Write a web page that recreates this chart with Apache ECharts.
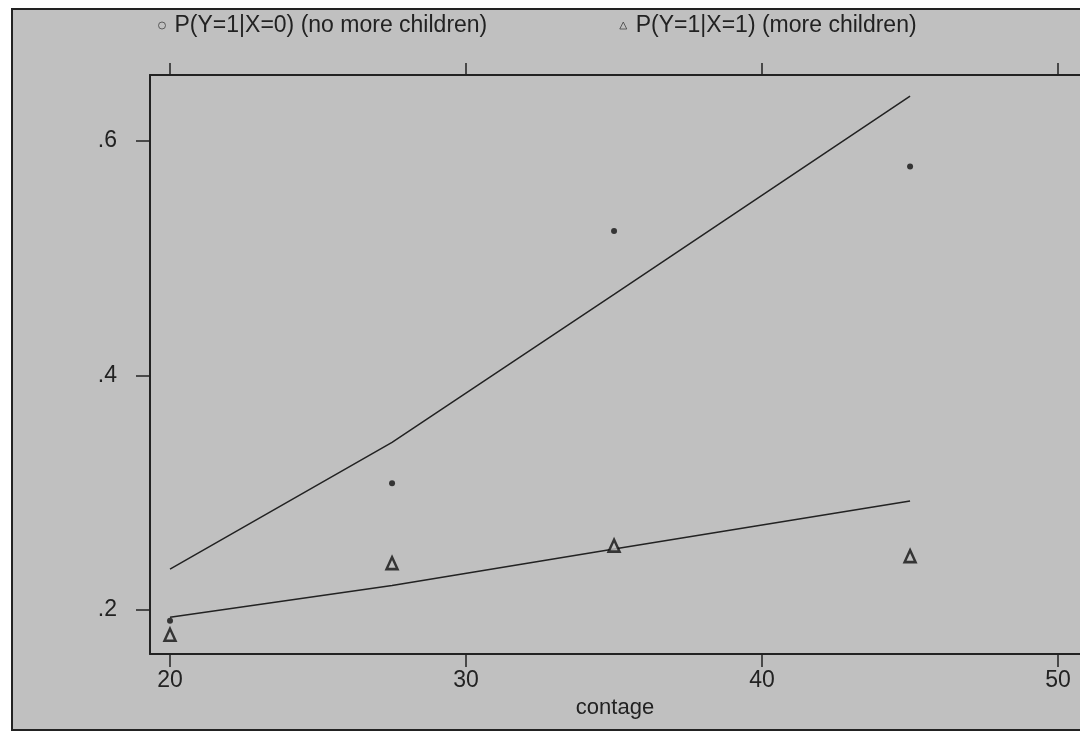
<!DOCTYPE html>
<html>
<head>
<meta charset="utf-8">
<script src="https://cdn.jsdelivr.net/npm/echarts@6/dist/echarts.min.js"></script>
<style>
  html, body { margin: 0; padding: 0; background: #fff; }
  #chart { width: 1080px; height: 732px; }
</style>
</head>
<body>
<div id="chart"></div>
<script>
// values
const ages = [20, 27.5, 35, 45];
const pNoMore = [0.191, 0.308, 0.523, 0.578];   // observed, X=0
const pMore = [0.179, 0.240, 0.255, 0.246];     // observed, X=1
const fitNoMore = [0.235, 0.343, 0.469, 0.638]; // fitted line, X=0
const fitMore = [0.194, 0.221, 0.252, 0.293];   // fitted line, X=1
const xTicks = [20, 30, 40, 50];
const yTicks = [0.2, 0.4, 0.6];
const legendNames = ['P(Y=1|X=0) (no more children)', 'P(Y=1|X=1) (more children)'];

const font = '"Liberation Sans", Arial, sans-serif';
const pairs = (xs, ys) => xs.map((x, i) => [x, ys[i]]);

let myChart = echarts.init(document.getElementById('chart'));

// plot runs off the right edge of the picture, so the axis max is where the window ends
let option = {
    backgroundColor: '#fff',
    animation: false,
    textStyle: { fontFamily: font },
    graphic: [{
        type: 'rect',
        z: -10,
        shape: { x: 12, y: 9, width: 1100, height: 721 },
        style: { fill: '#c0c0c0', stroke: '#222', lineWidth: 2 }
    }],
    legend: {
        left: 153,
        top: 9,
        itemGap: 132,
        itemWidth: 7,
        itemHeight: 7,
        textStyle: { fontSize: 23, color: '#222', fontFamily: font, padding: [0, 0, 0, 4] },
        data: [
            { name: legendNames[0], icon: 'circle', itemStyle: { color: 'transparent', borderColor: '#444', borderWidth: 1 } },
            { name: legendNames[1], icon: 'triangle', itemStyle: { color: 'transparent', borderColor: '#444', borderWidth: 1 } }
        ]
    },
    grid: {
        left: 150,
        top: 75,
        right: 0,
        bottom: 78,
        show: false
    },
    xAxis: [{
        type: 'value',
        min: 19.324,
        max: 50.74,
        position: 'bottom',
        name: 'contage',
        nameLocation: 'middle',
        nameGap: 42,
        nameTextStyle: { fontSize: 22, color: '#222' },
        axisLine: { show: true, onZero: false, lineStyle: { color: '#222', width: 2 } },
        axisTick: { show: true, length: 13, customValues: xTicks, lineStyle: { color: '#222', width: 1.5 } },
        axisLabel: { customValues: xTicks, fontSize: 23, color: '#222', margin: 15, hideOverlap: false },
        splitLine: { show: false }
    }, {
        type: 'value',
        min: 19.324,
        max: 50.74,
        position: 'top',
        axisLine: { show: true, onZero: false, lineStyle: { color: '#222', width: 2 } },
        axisTick: { show: true, length: 12, customValues: xTicks, lineStyle: { color: '#222', width: 1.5 } },
        axisLabel: { show: false },
        splitLine: { show: false }
    }],
    yAxis: {
        type: 'value',
        min: 0.1626,
        max: 0.656,
        axisLine: { show: true, onZero: false, lineStyle: { color: '#222', width: 2 } },
        axisTick: { show: true, length: 14, customValues: yTicks, lineStyle: { color: '#222', width: 1.5 } },
        axisLabel: {
            customValues: yTicks,
            fontSize: 23,
            color: '#222',
            margin: 33,
            formatter: v => String(v).replace(/^0/, '')
        },
        splitLine: { show: false }
    },
    series: [{
        name: 'fit0',
        type: 'line',
        data: pairs(ages, fitNoMore),
        symbol: 'none',
        lineStyle: { color: '#222', width: 1.5 },
        z: 2
    }, {
        name: 'fit1',
        type: 'line',
        data: pairs(ages, fitMore),
        symbol: 'none',
        lineStyle: { color: '#222', width: 1.5 },
        z: 2
    }, {
        name: legendNames[0],
        type: 'scatter',
        data: pairs(ages, pNoMore),
        symbol: 'circle',
        symbolSize: 6,
        itemStyle: { color: '#111' },
        z: 3
    }, {
        name: legendNames[1],
        type: 'scatter',
        data: pairs(ages, pMore),
        symbol: 'triangle',
        symbolSize: [11, 12],
        itemStyle: { color: '#c0c0c0', borderColor: '#111', borderWidth: 2.5 },
        z: 3
    }]
};

myChart.setOption(option);
</script>
</body>
</html>
